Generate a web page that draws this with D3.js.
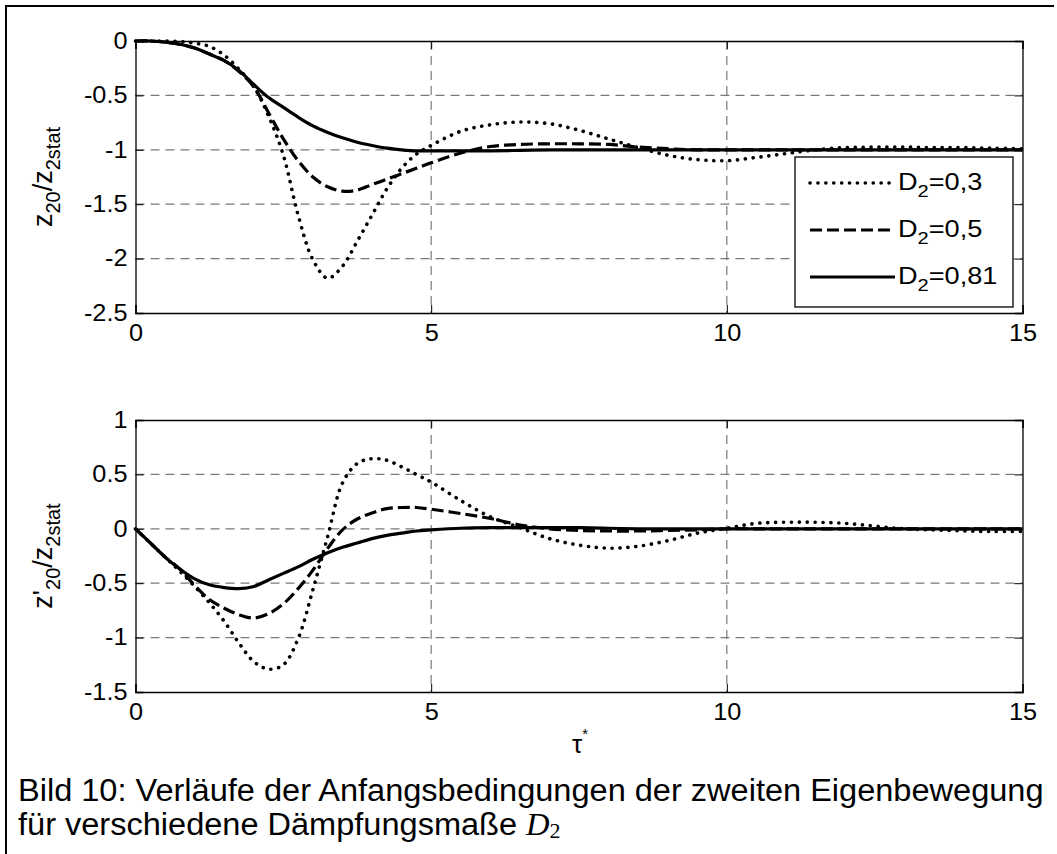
<!DOCTYPE html>
<html>
<head>
<meta charset="utf-8">
<script src="https://cdn.jsdelivr.net/npm/d3@7"></script>
<style>
body { margin: 0; background: #fff; }
svg { display: block; }
text { font-family: "Liberation Sans", Arial, sans-serif; fill: #000; }
</style>
</head>
<body>
<svg id="chart" width="1057" height="854"></svg>
<script>
// time axis (tau*) samples
const tau = [0, 0.25, 0.5, 0.75, 1, 1.25, 1.5, 1.75, 2, 2.25, 2.5, 2.75, 3, 3.25, 3.5, 3.75, 4, 4.25, 4.5, 4.75,
             5, 5.5, 6, 6.5, 7, 7.5, 8, 8.5, 9, 9.5, 10, 10.5, 11, 11.5, 12, 12.5, 13, 13.5, 14, 14.5, 15]

// upper plot: z20 / z2stat
const zD03 = [0, 0, 0, -0.005, -0.02, -0.05, -0.13, -0.26, -0.42, -0.69, -1.05, -1.6, -2.01, -2.18, -2.07, -1.84, -1.6, -1.36, -1.17, -1.04,
              -0.96, -0.83, -0.77, -0.745, -0.76, -0.82, -0.9, -0.98, -1.05, -1.09, -1.1, -1.07, -1.035, -1.0, -0.98, -0.975, -0.975, -0.98, -0.98, -0.985, -0.99]
const zD05 = [0, 0, -0.01, -0.03, -0.065, -0.12, -0.18, -0.28, -0.42, -0.66, -0.9, -1.1, -1.25, -1.34, -1.38, -1.37, -1.32, -1.27, -1.22, -1.17,
              -1.12, -1.03, -0.97, -0.95, -0.945, -0.945, -0.95, -0.975, -0.99, -1.0, -1.0, -1.0, -1.0, -1.0, -1.0, -1.0, -1.0, -1.0, -1.0, -1.0, -1.0]
const zD081 = [0, 0, -0.01, -0.03, -0.065, -0.12, -0.18, -0.27, -0.4, -0.52, -0.61, -0.7, -0.78, -0.84, -0.89, -0.93, -0.96, -0.985, -1.0, -1.01,
               -1.01, -1.01, -1.01, -1.005, -1.0, -1.0, -1.0, -1.0, -1.0, -1.0, -1.0, -1.0, -1.0, -1.0, -1.0, -1.0, -1.0, -1.0, -1.0, -1.0, -1.0]

// lower plot: z'20 / z2stat
const dD03 = [0, -0.13, -0.26, -0.39, -0.53, -0.68, -0.85, -1.05, -1.22, -1.29, -1.25, -1.01, -0.56, -0.07, 0.42, 0.6, 0.645, 0.63, 0.57, 0.5,
              0.43, 0.26, 0.11, 0.01, -0.09, -0.15, -0.178, -0.16, -0.11, -0.04, 0.005, 0.05, 0.06, 0.06, 0.05, 0.025, 0, -0.01, -0.02, -0.025, -0.025]
const dD05 = [0, -0.13, -0.26, -0.37, -0.52, -0.65, -0.73, -0.79, -0.82, -0.78, -0.69, -0.55, -0.38, -0.18, -0.01, 0.09, 0.145, 0.185, 0.196, 0.196,
              0.18, 0.14, 0.095, 0.035, 0, -0.015, -0.02, -0.02, -0.015, -0.01, 0, 0, 0, 0, 0, 0, 0, 0, 0, 0, 0]
const dD081 = [0, -0.13, -0.26, -0.37, -0.46, -0.515, -0.54, -0.55, -0.53, -0.47, -0.41, -0.35, -0.28, -0.22, -0.17, -0.13, -0.09, -0.06, -0.04, -0.02,
               -0.01, 0.005, 0.01, 0.01, 0.01, 0.01, 0.005, 0, 0, 0, 0, 0, 0, 0, 0, 0, 0, 0, 0, 0, 0]

const xTicks = [0, 5, 10, 15]
const yTicksTop = [0, -0.5, -1, -1.5, -2, -2.5]
const yTicksBottom = [1, 0.5, 0, -0.5, -1, -1.5]
const legendLabels = ["0,3", "0,5", "0,81"]

const styles = [
    {dash: "0.1 7.8", width: 3.6, cap: "round"},
    {dash: "12 5", width: 3.2, cap: "butt"},
    {dash: null, width: 3.2, cap: "butt"}
]

const svg = d3.select("#chart")

// outer frame (only top and left edge are visible)
svg.append("path")
    .attr("d", "M6,854 L6,6 L1054,6")
    .attr("fill", "none")
    .attr("stroke", "#000")
    .attr("stroke-width", 2)

const plotLeft = 135.5, plotRight = 1022.5
const tickFont = 23, stretch = 1.1

function drawPanel(top, bottom, domain, yTicks, series, prime){
    const x = d3.scaleLinear().domain([0, 15]).range([plotLeft, plotRight])
    const y = d3.scaleLinear().domain(domain).range([bottom, top])
    const g = svg.append("g")

    // grid
    g.append("g").selectAll("line").data(xTicks.slice(1, -1)).join("line")
        .attr("x1", d => x(d)).attr("x2", d => x(d))
        .attr("y1", top).attr("y2", bottom)
        .attr("stroke", "#7a7a7a").attr("stroke-width", 1.2).attr("stroke-dasharray", "9 6")
    g.append("g").selectAll("line").data(yTicks.slice(1, -1)).join("line")
        .attr("x1", plotLeft).attr("x2", plotRight)
        .attr("y1", d => y(d)).attr("y2", d => y(d))
        .attr("stroke", "#7a7a7a").attr("stroke-width", 1.2).attr("stroke-dasharray", "9 6")

    // axes with inward ticks
    const ax = g.append("g")
    ax.append("g").attr("transform", `translate(0,${bottom})`)
        .call(d3.axisBottom(x).tickValues(xTicks).tickSize(-8).tickPadding(12).tickFormat(d3.format("d")))
    ax.append("g").attr("transform", `translate(0,${top})`)
        .call(d3.axisTop(x).tickValues(xTicks).tickSize(-8).tickFormat(""))
    ax.append("g").attr("transform", `translate(${plotLeft},0)`)
        .call(d3.axisLeft(y).tickValues(yTicks).tickSize(-8).tickPadding(8).tickFormat(d => String(d)))
    ax.append("g").attr("transform", `translate(${plotRight},0)`)
        .call(d3.axisRight(y).tickValues(yTicks).tickSize(-8).tickFormat(""))
    ax.selectAll(".domain").attr("stroke", "#000").attr("stroke-width", 1.3)
    ax.selectAll(".tick line").attr("stroke", "#000")
    ax.selectAll(".tick text")
        .attr("font-size", tickFont)
        .attr("font-family", "Liberation Sans, Arial, sans-serif")
        .attr("transform", `scale(${stretch},1)`)
        .attr("x", function(){ return +d3.select(this).attr("x") / stretch })

    // curves
    const line = d3.line().x((d, i) => x(tau[i])).y(d => y(d)).curve(d3.curveCatmullRom.alpha(0.5))
    g.append("g").selectAll("path").data(series).join("path")
        .attr("d", d => line(d))
        .attr("fill", "none")
        .attr("stroke", "#000")
        .attr("stroke-width", (d, i) => styles[i].width)
        .attr("stroke-linecap", (d, i) => styles[i].cap)
        .attr("stroke-linejoin", "round")
        .attr("stroke-dasharray", (d, i) => styles[i].dash)

    // y label, rotated
    const lab = g.append("text")
        .attr("transform", `translate(52,${(top + bottom) / 2}) rotate(-90)`)
        .attr("text-anchor", "middle")
        .attr("font-size", 27)
    lab.append("tspan").text(prime ? "z'" : "z")
    lab.append("tspan").attr("font-size", 20).attr("dy", 8).text("20")
    lab.append("tspan").attr("dy", -8).text("/z")
    lab.append("tspan").attr("font-size", 20).attr("dy", 8).text("2stat")
}

drawPanel(41, 313, [-2.5, 0], yTicksTop, [zD03, zD05, zD081], false)
drawPanel(420, 692, [-1.5, 1], yTicksBottom, [dD03, dD05, dD081], true)

// legend
const leg = svg.append("g")
leg.append("rect").attr("x", 795).attr("y", 157).attr("width", 218).attr("height", 150)
    .attr("fill", "#fff").attr("stroke", "#000").attr("stroke-width", 1.3)
legendLabels.forEach((lbl, i) => {
    const ly = 183 + i * 47
    leg.append("line").attr("x1", 810).attr("x2", i === 0 ? 890 : 895).attr("y1", ly).attr("y2", ly)
        .attr("stroke", "#000")
        .attr("stroke-width", styles[i].width)
        .attr("stroke-linecap", styles[i].cap)
        .attr("stroke-dasharray", styles[i].dash)
    const t = leg.append("text")
        .attr("transform", `translate(898,${ly + 7}) scale(1.18,1)`)
        .attr("font-size", 23)
    t.append("tspan").text("D")
    t.append("tspan").attr("font-size", 17).attr("dy", 7).text("2")
    t.append("tspan").attr("dy", -7).text("=" + lbl)
})

// x label tau*
const xl = svg.append("text").attr("x", 572).attr("y", 753)
    .attr("font-family", "Liberation Serif, Times New Roman, serif").attr("font-size", 26)
xl.append("tspan").text("τ")
xl.append("tspan").attr("font-size", 15).attr("dy", -14).attr("font-family", "Liberation Sans, Arial, sans-serif").text("*")

// caption
svg.append("text").attr("transform", "translate(18,801) scale(1.05,1)").attr("font-size", 31)
    .text("Bild 10: Verläufe der Anfangsbedingungen der zweiten Eigenbewegung")
const c2 = svg.append("text").attr("transform", "translate(18,835) scale(1.05,1)").attr("font-size", 31)
c2.append("tspan").text("für verschiedene Dämpfungsmaße ")
c2.append("tspan").attr("font-family", "Liberation Serif, Times New Roman, serif").attr("font-style", "italic").text("D")
c2.append("tspan").attr("font-family", "Liberation Serif, Times New Roman, serif").attr("font-size", 21).attr("dy", 3).text("2")
</script>
</body>
</html>
